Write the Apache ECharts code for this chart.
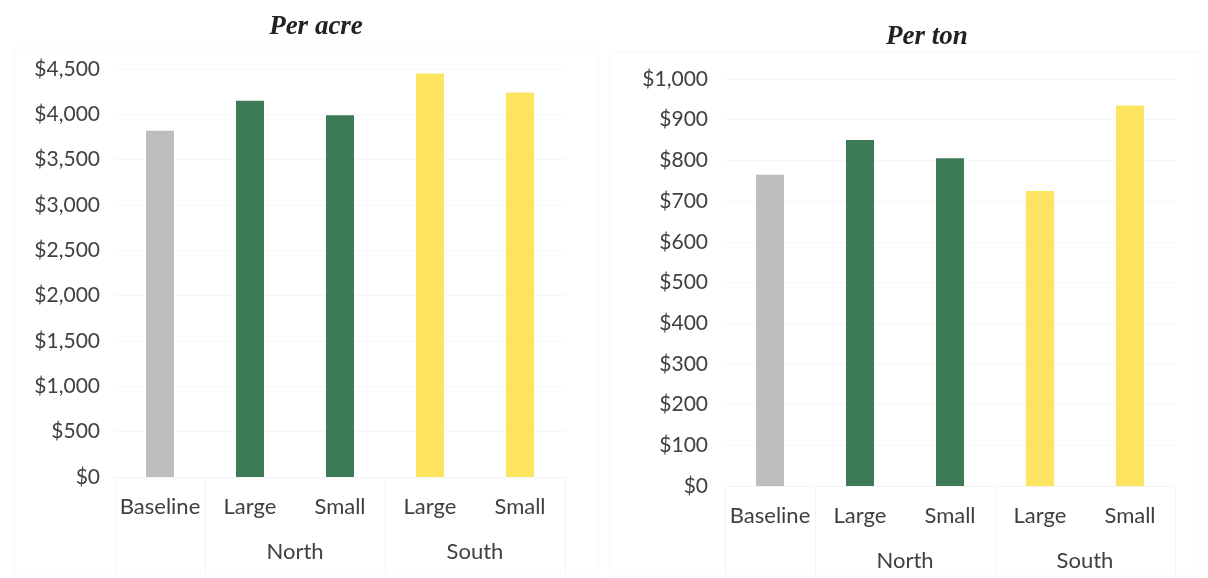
<!DOCTYPE html>
<html>
<head>
<meta charset="utf-8">
<script src="https://cdn.jsdelivr.net/npm/echarts@6/dist/echarts.min.js"></script>
<style>
  html, body { margin: 0; padding: 0; background: #ffffff; }
  #chart { width: 1208px; height: 578px; }
</style>
</head>
<body>
<div id="chart"></div>
<script>
// Cost comparison: baseline vs North/South, large and small operations
const categories = ['Baseline', 'Large', 'Small', 'Large', 'Small'];
const groupLabels = ['', '', 'North', '', 'South', ''];
const perAcre = [3820, 4150, 3990, 4450, 4240];
const perTon = [765, 850, 805, 725, 935];
const acreTicks = { min: 0, max: 4500, interval: 500 };
const tonTicks = { min: 0, max: 1000, interval: 100 };
const barColors = ['#bdbdc0', '#3c7b56', '#3c7b56', '#fde460', '#fde460'];

const labelFont = 'Lato, "Open Sans", sans-serif';
const titleFont = '"Liberation Serif", serif';
const textColor = '#404040';

const money = v => '$' + v.toLocaleString('en-US');

function categoryAxis(gridIndex) {
  return {
    type: 'category',
    gridIndex,
    data: categories,
    axisLine: { show: true, lineStyle: { color: '#f4f4f4' } },
    axisTick: { show: false },
    axisLabel: {
      interval: 0, margin: 19, color: textColor,
      fontFamily: labelFont, fontSize: 22
    }
  };
}

// Second-level axis: group names and the separators between groups
function groupAxis(gridIndex, labelMargin) {
  return {
    type: 'category',
    gridIndex,
    position: 'bottom',
    boundaryGap: false,
    data: groupLabels,
    axisLine: { show: false },
    axisTick: {
      show: true, length: 96,
      interval: i => i === 0 || i === 1 || i === 3 || i === 5,
      lineStyle: { color: '#f4f4f4', width: 1 }
    },
    axisLabel: {
      interval: 0, margin: labelMargin, color: textColor,
      fontFamily: labelFont, fontSize: 22
    },
    splitLine: { show: false }
  };
}

function valueAxis(gridIndex, ticks, margin) {
  return {
    type: 'value',
    gridIndex,
    min: ticks.min, max: ticks.max, interval: ticks.interval,
    axisLine: { show: false },
    axisTick: { show: false },
    splitLine: { show: true, lineStyle: { color: '#f6f6f6' } },
    axisLabel: {
      margin, color: textColor, fontFamily: labelFont, fontSize: 21,
      formatter: money
    }
  };
}

function barSeries(axisIndex, values) {
  return {
    type: 'bar',
    xAxisIndex: axisIndex,
    yAxisIndex: axisIndex,
    barWidth: 28,
    data: values.map((v, i) => ({ value: v, itemStyle: { color: barColors[i] } })),
    silent: true
  };
}

const chart = echarts.init(document.getElementById('chart'), null, { renderer: 'canvas' });

chart.setOption({
  backgroundColor: '#ffffff',
  animation: false,
  title: [
    {
      text: 'Per acre', left: 311, top: 9, textAlign: 'center',
      textStyle: { fontFamily: titleFont, fontStyle: 'italic', fontWeight: 'bold', fontSize: 27, color: '#222222' }
    },
    {
      text: 'Per ton', left: 922, top: 19, textAlign: 'center',
      textStyle: { fontFamily: titleFont, fontStyle: 'italic', fontWeight: 'bold', fontSize: 27, color: '#222222' }
    }
  ],
  grid: [
    { left: 115, width: 450, top: 69, bottom: 101 },
    { left: 725, width: 450, top: 79, bottom: 92 }
  ],
  xAxis: [
    categoryAxis(0),
    categoryAxis(1),
    groupAxis(0, 64),
    groupAxis(1, 64)
  ],
  yAxis: [
    valueAxis(0, acreTicks, 15),
    valueAxis(1, tonTicks, 17)
  ],
  graphic: [
    { type: 'rect', shape: { x: 14, y: 48, width: 584, height: 526 }, style: { fill: 'none', stroke: '#f8f8f8', lineWidth: 1 }, silent: true },
    { type: 'rect', shape: { x: 610, y: 52, width: 590, height: 524 }, style: { fill: 'none', stroke: '#f8f8f8', lineWidth: 1 }, silent: true }
  ],
  series: [
    barSeries(0, perAcre),
    barSeries(1, perTon)
  ]
});
</script>
</body>
</html>
